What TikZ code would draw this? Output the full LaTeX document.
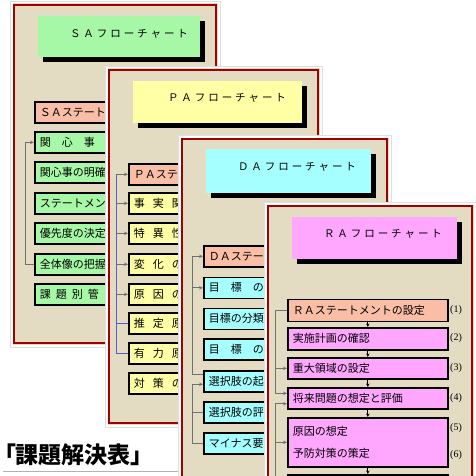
\documentclass[tikz,border=0pt]{standalone}
\usepackage{fontspec}
\setmainfont{Noto Sans CJK JP}
\newfontfamily\jpwide{Noto Sans CJK JP}[LetterSpace=28]
\newfontfamily\jphead{Noto Sans CJK JP}[RawFeature=+palt]
\newfontfamily\lblfont{Liberation Serif}
\usetikzlibrary{arrows.meta,shadows}
\definecolor{cardbg}{HTML}{E4DBC3}
\definecolor{cardred}{HTML}{A00000}
\definecolor{sagreen}{HTML}{A6F8A6}
\definecolor{payellow}{HTML}{FFFFA6}
\definecolor{dacyan}{HTML}{A6FFFF}
\definecolor{rapink}{HTML}{FFA6FF}
\definecolor{salmon}{HTML}{F9BEA5}
\definecolor{connGray}{HTML}{707070}
\definecolor{connBlue}{HTML}{5A5AC8}
\newcommand\gp[1]{\hspace{#1pt}}
\newcommand\drawcard[4]{%
  \filldraw[fill=white, draw=gray!25, line width=0.4pt] (#1-3.5,#2-3.5) rectangle (#3+4,#4+4);
  \fill[cardbg] (#1-1.5,#2-1.5) rectangle (#3+2,#4+2);
  \draw[cardred, line width=1.3pt] (#1,#2) rectangle (#3,#4);}
\begin{document}
\begin{tikzpicture}[x=1pt,y=-1pt,
  titlebox/.style={anchor=north west, inner sep=0pt, draw=none,
    drop shadow={shadow xshift=5pt, shadow yshift=-4.5pt, fill=black, opacity=1}},
  titletext/.style={font=\jpwide\fontsize{10.5}{12}\selectfont, inner sep=0pt},
  flowbox/.style={draw=black, line width=1.6pt, anchor=north west, minimum height=21pt,
    inner xsep=5pt, inner ysep=0pt, align=left, font=\fontsize{11}{13}\selectfont},
  sabox/.style={flowbox, fill=sagreen, text width=110pt},
  pabox/.style={flowbox, fill=payellow, text width=140pt},
  dabox/.style={flowbox, fill=dacyan, text width=150pt},
  rabox/.style={flowbox, fill=rapink, text width=150pt},
  stmt/.style={fill=salmon},
  gline/.style={draw=connGray, line width=0.9pt},
  garrow/.style={gline, -{Stealth[length=4pt,width=3.5pt]}},
  bline/.style={draw=connBlue, line width=0.9pt},
  karrow/.style={draw=black, line width=0.9pt, -{Stealth[length=3.5pt,width=3.5pt]}},
  lbl/.style={font=\lblfont\fontsize{10}{12}\selectfont, inner sep=0pt},
]
\useasboundingbox (0,0) rectangle (476,476);
\clip (0,0) rectangle (476,476);

% ---------------- SA card
\drawcard{14}{5}{216}{343}
\node[titlebox, fill=sagreen, minimum width=162pt, minimum height=41pt] (satitle) at (38,16) {};
\node[titletext] (satitletext) at (129,34) {ＳＡフローチャート};
\node[sabox, stmt] (sa0) at (34,101) {ＳＡステート};
\node[sabox] (sa1) at (34,131) {関　心　事};
\node[sabox] (sa2) at (34,161) {関心事の明確};
\node[sabox] (sa3) at (34,192) {ステートメン};
\node[sabox] (sa4) at (34,222) {優先度の決定};
\node[sabox] (sa5) at (34,253) {全体像の把握};
\node[sabox] (sa6) at (34,283) {課\gp{5}題\gp{5}別\gp{5}管};
\coordinate (sv) at (25,0);
\draw[garrow] (sa5.west) -| (sv |- sa1.west) -- (sa1.west);

% ---------------- PA card
\drawcard{109}{70}{318}{423}
\node[titlebox, fill=payellow, minimum width=169pt, minimum height=42pt] (patitle) at (133,81) {};
\node[titletext] (patitletext) at (227,98) {ＰＡフローチャート};
\node[pabox, stmt] (pa0) at (128,163) {ＰＡステ};
\node[pabox] (pa1) at (128,192) {事\gp{8}実\gp{8}関};
\node[pabox] (pa2) at (128,222) {特\gp{8}異\gp{8}性};
\node[pabox] (pa3) at (128,253) {変\gp{8}化\gp{8}の};
\node[pabox] (pa4) at (128,283) {原\gp{8}因\gp{8}の};
\node[pabox] (pa5) at (128,312) {推\gp{8}定\gp{8}原};
\node[pabox] (pa6) at (128,342) {有\gp{8}力\gp{8}原};
\node[pabox] (pa7) at (128,372) {対\gp{8}策\gp{8}の};
\coordinate (pv) at (116,0);
\draw[bline] (pa6.west) -| (pv |- pa0.west);
\draw[bline] (pa5.west) -- (pa5.west -| pv);
\foreach \k in {0,...,4} \draw[garrow] (pa\k.west -| pv) -- (pa\k.west);

% ---------------- heading
\node[anchor=west, inner sep=0pt, font=\jphead\bfseries\fontsize{23}{26}\selectfont] (heading) at (4,455) {「課題解決表」};
\coordinate (ulA) at (3,471.5);
\coordinate (ulB) at (200,471.5);
\draw[gray!60, line width=1.3pt] (ulA) -- (ulB);

% ---------------- DA card
\drawcard{182}{139}{387}{495}
\node[titlebox, fill=dacyan, minimum width=165pt, minimum height=44pt] (datitle) at (206,149) {};
\node[titletext] (datitletext) at (297,167) {ＤＡフローチャート};
\node[dabox, stmt] (da0) at (203,245) {ＤＡステー};
\node[dabox] (da1) at (203,276.5) {目　標　の};
\node[dabox] (da2) at (203,307.5) {目標の分類};
\node[dabox] (da3) at (203,338) {目　標　の};
\node[dabox] (da4) at (203,370) {選択肢の起};
\node[dabox] (da5) at (203,401) {選択肢の評};
\node[dabox] (da6) at (203,432) {マイナス要};
\coordinate (dv) at (192,0);
\coordinate (da4a) at ([yshift=7pt]da4.west);
\coordinate (da4b) at ([yshift=-3pt]da4.west);
\draw[gline] (da4a) -| (dv |- da0.west);
\draw[garrow] (dv |- da0.west) -- (da0.west);
\draw[garrow] (dv |- da1.west) -- (da1.west);
\draw[gline] (da6.west) -| (dv |- da4b);
\draw[garrow] (dv |- da4b) -- (da4b);
\draw[gline] (da5.west) -- (da5.west -| dv);

% ---------------- RA card
\drawcard{268}{206}{472}{495}
\node[titlebox, fill=rapink, minimum width=165pt, minimum height=42pt] (ratitle) at (292,217) {};
\node[titletext] (ratitletext) at (383,234) {ＲＡフローチャート};
\node[rabox, stmt, minimum height=22pt] (ra0) at (287,298.5) {ＲＡステートメントの設定};
\node[rabox, minimum height=22pt] (ra1) at (287,327) {実施計画の確認};
\node[rabox] (ra2) at (287,357) {重大領域の設定};
\node[rabox] (ra3) at (287,387) {将来問題の想定と評価};
\node[rabox, minimum height=49pt, font=\fontsize{11}{22}\selectfont] (ra4) at (287,417) {原因の想定\\予防対策の策定};
\node[rabox, minimum height=30pt] (ra5) at (287,474) {};
\foreach \a/\b in {ra0/ra1, ra1/ra2, ra2/ra3, ra3/ra4, ra4/ra5}
  \draw[karrow] (\a.south) -- (\b.north);
\node[lbl] (l1) at (456,310) {(1)};
\node[lbl] (l2) at (456,338) {(2)};
\node[lbl] (l3) at (456,368) {(3)};
\node[lbl] (l4) at (456,398) {(4)};
\node[lbl] (l5) at (456,428) {(5)};
\node[lbl] (l6) at (456,455) {(6)};
\coordinate (rv) at (275,0);
\coordinate (ra3a) at ([yshift=5pt]ra3.west);
\coordinate (ra3b) at ([yshift=-5.5pt]ra3.west);
\coordinate (rbot) at (275,485);
\draw[garrow] (ra0.west) -| (rv |- ra3a) -- (ra3a);
\draw[garrow] (rv |- ra2.west) -- (ra2.west);
\draw[gline] (rbot) -- (rv |- ra3b);
\draw[garrow] (rv |- ra3b) -- (ra3b);
\draw[garrow] (rv |- ra4.west) -- (ra4.west);
\end{tikzpicture}
\end{document}
